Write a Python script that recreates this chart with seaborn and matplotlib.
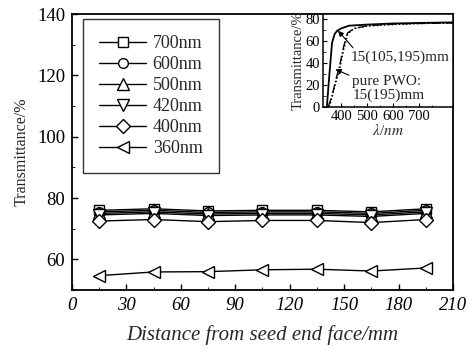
import matplotlib
matplotlib.use("Agg")
import matplotlib.pyplot as plt
import seaborn as sns
import pandas as pd

sns.set_theme(style="ticks")
plt.rcParams['font.family'] = ['Liberation Serif', 'DejaVu Serif']
plt.rcParams['mathtext.fontset'] = 'stix'

# ---- main data ----
distance = [15, 45, 75, 105, 135, 165, 195]
t700 = [76.0, 76.5, 75.8, 76.0, 76.0, 75.5, 76.5]
t600 = [75.5, 76.0, 75.3, 75.5, 75.5, 75.0, 76.0]
t500 = [75.0, 75.5, 74.8, 75.0, 75.0, 74.5, 75.5]
t420 = [74.5, 75.0, 74.3, 74.5, 74.5, 74.0, 75.0]
t400 = [72.5, 73.0, 72.3, 72.7, 72.7, 72.0, 73.0]
t360 = [54.7, 55.9, 56.0, 56.6, 56.8, 56.2, 57.2]
series_labels = ["700nm", "600nm", "500nm", "420nm", "400nm", "360nm"]
series_values = [t700, t600, t500, t420, t400, t360]
markers = ["s", "o", "^", "v", "D", "<"]
msizes = [7, 7, 8, 8, 7, 8]

# ---- inset data ----
wl_a = [345, 355, 365, 375, 385, 400, 430, 500, 600, 700, 830]
tr_a = [0, 30, 58, 66, 69, 71, 73.5, 74.5, 75.5, 76, 76.5]
wl_b = [350, 365, 380, 395, 410, 425, 450, 500, 600, 700, 830]
tr_b = [0, 10, 25, 38, 55, 67, 71, 73.5, 75, 75.5, 76]
wl_c = [355, 375, 395, 410, 425, 450, 500, 600, 700, 830]
tr_c = [0, 18, 35, 52, 66, 71, 73, 74.5, 75.5, 76]

fig = plt.figure(figsize=(4.66, 3.52), dpi=100)
ax = fig.add_axes([0.1545, 0.176, 0.8175, 0.784])

for lab, vals, m, ms in zip(series_labels, series_values, markers, msizes):
    df = pd.DataFrame({"d": distance, "t": vals})
    sns.lineplot(data=df, x="d", y="t", ax=ax, color="black", lw=1.0,
                 marker=m, markersize=ms, markerfacecolor="white",
                 markeredgecolor="black", markeredgewidth=1.0, label=lab)

ax.set_xlim(0, 210)
ax.set_ylim(50, 140)
ax.set_xticks(range(0, 211, 30))
ax.set_yticks(range(60, 141, 20))
ax.set_xticks(range(15, 211, 30), minor=True)
ax.set_yticks(range(50, 141, 10), minor=True)
ax.tick_params(direction="in", length=4, width=1, labelsize=13.5, colors="black",
               top=False, right=False, pad=5)
ax.tick_params(which="minor", direction="in", length=2.5, width=0.8,
               top=False, right=False)
for lbl in ax.get_xticklabels():
    lbl.set_fontstyle("italic")
for s in ax.spines.values():
    s.set_linewidth(1.3)
    s.set_color("black")
ax.set_xlabel("Distance from seed end face/mm", fontsize=15, style="italic",
              labelpad=8)
ax.set_ylabel("Transmittance/%", fontsize=11.5, labelpad=5)

leg = ax.legend(loc="upper left", bbox_to_anchor=(0.02, 0.995), fontsize=13,
                frameon=True, fancybox=False, edgecolor="black",
                handlelength=2.6, handletextpad=0.35, labelspacing=0.22,
                borderpad=0.9, borderaxespad=0.2)
leg.get_frame().set_linewidth(1.0)

# ---- inset ----
axi = fig.add_axes([0.693, 0.696, 0.279, 0.264])
axi.set_facecolor("white")
sns.lineplot(x=wl_a, y=tr_a, ax=axi, color="black", lw=1.3)
sns.lineplot(x=wl_b, y=tr_b, ax=axi, color="black", lw=1.0, linestyle="-.")
sns.lineplot(x=wl_c, y=tr_c, ax=axi, color="black", lw=1.0, linestyle=":")
axi.set_xlim(330, 830)
axi.set_ylim(0, 84)
axi.set_xticks([400, 500, 600, 700])
axi.set_yticks([0, 20, 40, 60, 80])
axi.set_xticks([350, 450, 550, 650, 750], minor=True)
axi.set_yticks([10, 30, 50, 70], minor=True)
axi.tick_params(direction="in", length=3, width=0.8, labelsize=10.5, pad=2,
                colors="black")
axi.tick_params(which="minor", direction="in", length=1.8, width=0.6)
for s in axi.spines.values():
    s.set_linewidth(1.1)
    s.set_color("black")
axi.set_xlabel(r"$\lambda$/$nm$", fontsize=11, labelpad=0)
axi.set_ylabel("Transmittance/%", fontsize=10.5, labelpad=1)

axi.annotate("15(105,195)mm", xy=(388, 69), xytext=(0.215, 0.53),
             textcoords="axes fraction", fontsize=11, va="center", ha="left",
             arrowprops=dict(arrowstyle="-|>", color="black", lw=0.8,
                             mutation_scale=8, shrinkA=0, shrinkB=0,
                             relpos=(0.05, 1.0)))
axi.annotate("pure PWO:\n15(195)mm", xy=(378, 34), xytext=(0.225, 0.2),
             textcoords="axes fraction", fontsize=11, va="center", ha="left",
             linespacing=1.0,
             arrowprops=dict(arrowstyle="-|>", color="black", lw=0.8,
                             mutation_scale=8, shrinkA=0, shrinkB=0,
                             relpos=(0.0, 0.95)))

fig.savefig("out.png", dpi=100)
